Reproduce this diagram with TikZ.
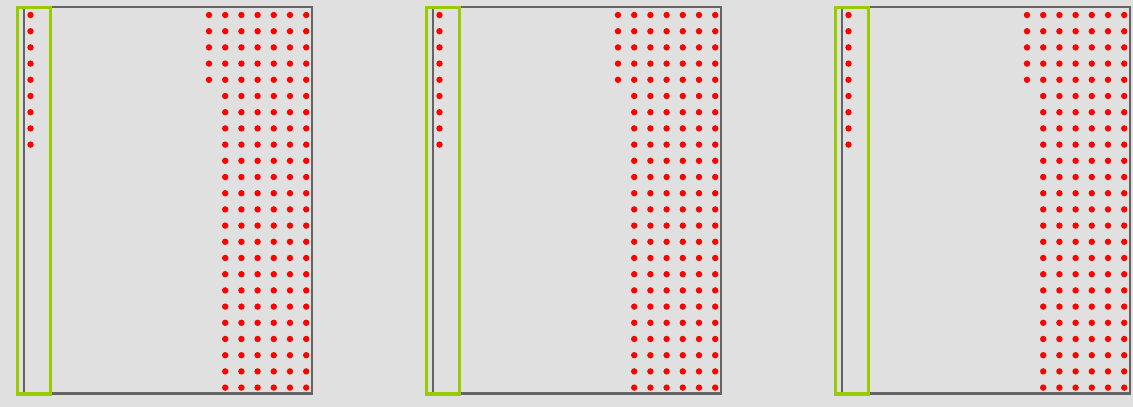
\documentclass[tikz,border=0pt]{standalone}
\usepackage{xcolor}
\usepackage{tikz}
\definecolor{panelgrey}{RGB}{224,224,224}
\definecolor{framegrey}{RGB}{100,100,100}
\definecolor{selgreen}{RGB}{153,204,0}
\definecolor{dotred}{RGB}{255,0,0}

\begin{document}
\begin{tikzpicture}[x=1pt, y=-1pt,
    frame/.style={draw=framegrey, line width=2.4pt},
    selbox/.style={draw=selgreen, line width=3.4pt},
    dot/.style={fill=dotred}]
  \fill[panelgrey] (0,0) rectangle (1133,407);
  \useasboundingbox (0,0) rectangle (1133,407);
  % three identical panels
  \foreach \p in {0,1,2} {
    \begin{scope}[xshift={\p*409pt}]
      \draw[frame] (24,7) rectangle (312,393.5);
      \draw[selbox] (17.5,7.5) rectangle (50.5,394);
      % left column
      \foreach \r in {0,...,8}
        \fill[dot] (30.5,15+16.2*\r) circle (3.2pt);
      % right block, first column only on top rows
      \foreach \r in {0,...,4}
        \fill[dot] (209,15+16.2*\r) circle (3.2pt);
      \foreach \r in {0,...,23}
        \foreach \c in {1,...,6}
          \fill[dot] (209+16.2*\c,15+16.2*\r) circle (3.2pt);
    \end{scope}
  }
\end{tikzpicture}
\end{document}
